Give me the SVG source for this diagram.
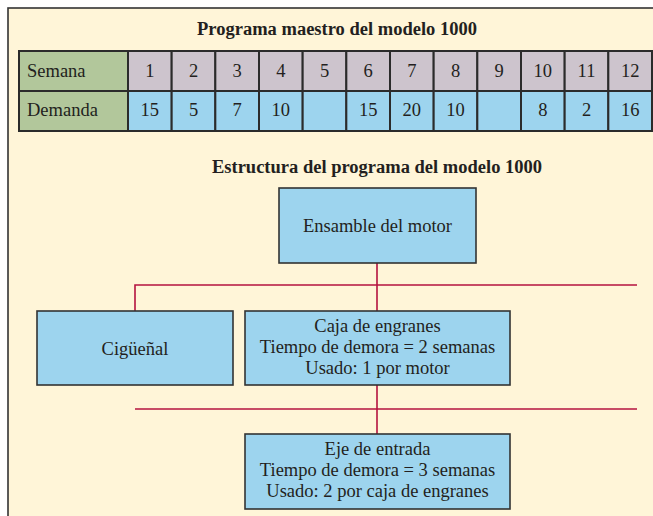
<svg xmlns="http://www.w3.org/2000/svg" width="653" height="516" viewBox="0 0 653 516">
<style>
text{font-family:"Liberation Serif","Times New Roman",serif;font-size:18.5px;fill:#231f20}
.b{font-weight:bold}
.m{text-anchor:middle}
.cell{stroke:#2b2b2b;stroke-width:2}
.g{fill:#b2c79b}
.p{fill:#cdc4cd}
.u{fill:#9dd4ee}
.box{fill:#9dd4ee;stroke:#333;stroke-width:1.6}
.con{stroke:#b5123f;stroke-width:1.6;fill:none}
</style>
<rect x="0" y="0" width="653" height="516" fill="#ffffff"/>
<rect x="8" y="8" width="700" height="600" fill="#fff5d8" stroke="#333" stroke-width="1.6"/>
<text class="b m" x="337" y="35">Programa maestro del modelo 1000</text>
<g id="table">
<rect class="cell g" x="19" y="51" width="109" height="40"/>
<rect class="cell g" x="19" y="91" width="109" height="40"/>
<text x="27" y="77">Semana</text>
<text x="27" y="116">Demanda</text>
<g class="cell p">
<rect x="128" y="51" width="43.67" height="40"/><rect x="171.67" y="51" width="43.67" height="40"/><rect x="215.33" y="51" width="43.67" height="40"/><rect x="259" y="51" width="43.67" height="40"/><rect x="302.67" y="51" width="43.67" height="40"/><rect x="346.33" y="51" width="43.67" height="40"/><rect x="390" y="51" width="43.67" height="40"/><rect x="433.67" y="51" width="43.67" height="40"/><rect x="477.33" y="51" width="43.67" height="40"/><rect x="521" y="51" width="43.67" height="40"/><rect x="564.67" y="51" width="43.67" height="40"/><rect x="608.33" y="51" width="43.67" height="40"/>
</g>
<g class="cell u">
<rect x="128" y="91" width="43.67" height="40"/><rect x="171.67" y="91" width="43.67" height="40"/><rect x="215.33" y="91" width="43.67" height="40"/><rect x="259" y="91" width="43.67" height="40"/><rect x="302.67" y="91" width="43.67" height="40"/><rect x="346.33" y="91" width="43.67" height="40"/><rect x="390" y="91" width="43.67" height="40"/><rect x="433.67" y="91" width="43.67" height="40"/><rect x="477.33" y="91" width="43.67" height="40"/><rect x="521" y="91" width="43.67" height="40"/><rect x="564.67" y="91" width="43.67" height="40"/><rect x="608.33" y="91" width="43.67" height="40"/>
</g>
<g class="m">
<text class="m" x="149.8" y="77">1</text><text class="m" x="193.5" y="77">2</text><text class="m" x="237.2" y="77">3</text><text class="m" x="280.8" y="77">4</text><text class="m" x="324.5" y="77">5</text><text class="m" x="368.2" y="77">6</text><text class="m" x="411.8" y="77">7</text><text class="m" x="455.5" y="77">8</text><text class="m" x="499.2" y="77">9</text><text class="m" x="542.8" y="77">10</text><text class="m" x="586.5" y="77">11</text><text class="m" x="630.2" y="77">12</text>
<text class="m" x="149.8" y="116">15</text><text class="m" x="193.5" y="116">5</text><text class="m" x="237.2" y="116">7</text><text class="m" x="280.8" y="116">10</text><text class="m" x="368.2" y="116">15</text><text class="m" x="411.8" y="116">20</text><text class="m" x="455.5" y="116">10</text><text class="m" x="542.8" y="116">8</text><text class="m" x="586.5" y="116">2</text><text class="m" x="630.2" y="116">16</text>
</g>
</g>
<text class="b m" x="377" y="173">Estructura del programa del modelo 1000</text>
<g id="connectors">
<line class="con" x1="377" y1="263" x2="377" y2="311"/>
<polyline class="con" points="135,311 135,285 637,285"/>
<line class="con" x1="377" y1="385" x2="377" y2="434"/>
<line class="con" x1="135" y1="409" x2="637" y2="409"/>
</g>
<g id="ensamble">
<rect class="box" x="279" y="188" width="197" height="75"/>
<text class="m" x="377.5" y="232">Ensamble del motor</text>
</g>
<g id="ciguenal">
<rect class="box" x="37" y="311" width="196" height="74"/>
<text class="m" x="135" y="355">Cigüeñal</text>
</g>
<g id="caja">
<rect class="box" x="245" y="311" width="265" height="74"/>
<text class="m" x="377.5" y="332">Caja de engranes</text>
<text class="m" x="377.5" y="353">Tiempo de demora = 2 semanas</text>
<text class="m" x="377.5" y="374">Usado: 1 por motor</text>
</g>
<g id="eje">
<rect class="box" x="245" y="434" width="265" height="75"/>
<text class="m" x="377.5" y="455">Eje de entrada</text>
<text class="m" x="377.5" y="476">Tiempo de demora = 3 semanas</text>
<text class="m" x="377.5" y="497">Usado: 2 por caja de engranes</text>
</g>
</svg>
